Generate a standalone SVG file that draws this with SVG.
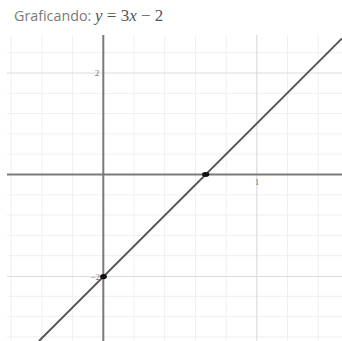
<svg xmlns="http://www.w3.org/2000/svg" width="342" height="341" viewBox="0 0 342 341">
<style>
.minor{stroke:#efefef;stroke-width:1}
.major{stroke:#dcdcdc;stroke-width:1.2}
.axis{stroke:#7a7a7a;stroke-width:2}
.lbl{font-family:"Liberation Serif",serif;font-size:9px;fill:#777}
.pt{fill:#111}
</style>
<rect width="342" height="341" fill="#fff"/>
<g id="grid">
<g class="minor">
<line x1="11.2" y1="35" x2="11.2" y2="341"/>
<line x1="41.9" y1="35" x2="41.9" y2="341"/>
<line x1="72.6" y1="35" x2="72.6" y2="341"/>
<line x1="134" y1="35" x2="134" y2="341"/>
<line x1="164.7" y1="35" x2="164.7" y2="341"/>
<line x1="195.4" y1="35" x2="195.4" y2="341"/>
<line x1="226.1" y1="35" x2="226.1" y2="341"/>
<line x1="287.5" y1="35" x2="287.5" y2="341"/>
<line x1="318.2" y1="35" x2="318.2" y2="341"/>
<line x1="7" y1="52.7" x2="342" y2="52.7"/>
<line x1="7" y1="93.3" x2="342" y2="93.3"/>
<line x1="7" y1="113.6" x2="342" y2="113.6"/>
<line x1="7" y1="133.9" x2="342" y2="133.9"/>
<line x1="7" y1="154.2" x2="342" y2="154.2"/>
<line x1="7" y1="194.8" x2="342" y2="194.8"/>
<line x1="7" y1="215.1" x2="342" y2="215.1"/>
<line x1="7" y1="235.4" x2="342" y2="235.4"/>
<line x1="7" y1="255.7" x2="342" y2="255.7"/>
<line x1="7" y1="296.3" x2="342" y2="296.3"/>
<line x1="7" y1="316.6" x2="342" y2="316.6"/>
<line x1="7" y1="336.9" x2="342" y2="336.9"/>
</g>
<g class="major">
<line x1="256.8" y1="35" x2="256.8" y2="341"/>
<line x1="7" y1="73" x2="342" y2="73"/>
<line x1="7" y1="276.5" x2="342" y2="276.5"/>
</g>
</g>
<g id="axes">
<line class="axis" x1="7" y1="174.5" x2="342" y2="174.5"/>
<line class="axis" x1="103.3" y1="35" x2="103.3" y2="341"/>
</g>
<g id="labels">
<text class="lbl" x="97" y="76" text-anchor="middle">2</text>
<text class="lbl" x="257" y="185" text-anchor="middle">1</text>
<text class="lbl" x="100" y="280" text-anchor="end">−2</text>
</g>
<g id="title">
<text x="14" y="21" font-family="'Open Sans',sans-serif" font-size="14.3" fill="#7a7a7a">Graficando: <tspan font-family="'Liberation Serif',serif" font-size="17" fill="#555" x="95"><tspan font-style="italic">y</tspan> = 3<tspan font-style="italic">x</tspan> − 2</tspan></text>
</g>
<g id="connectors">
<line x1="39" y1="341" x2="342" y2="38.5" stroke="#555" stroke-width="1.9"/>
</g>
<g id="points">
<ellipse class="pt" cx="205.7" cy="174.5" rx="3.6" ry="2.4"/>
<ellipse class="pt" cx="103.5" cy="276.6" rx="3.4" ry="2.6"/>
</g>
</svg>
